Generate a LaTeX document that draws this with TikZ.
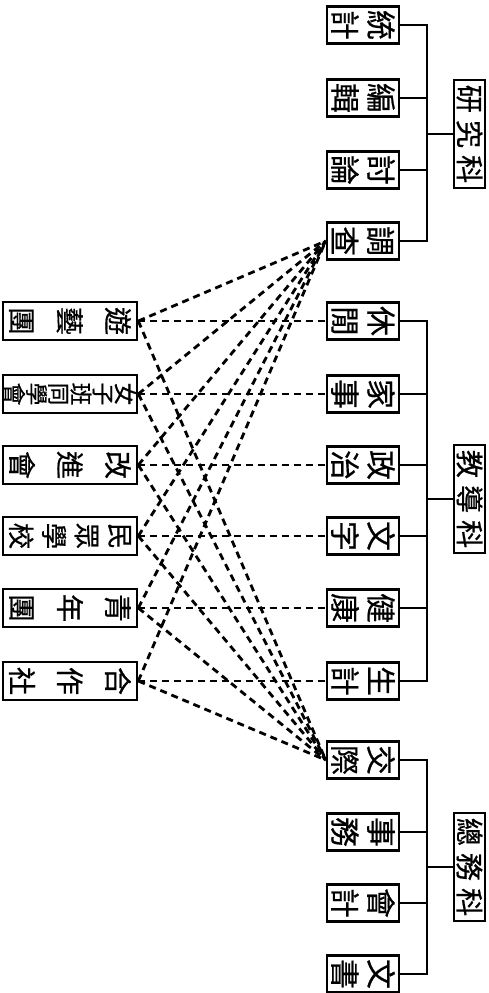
\documentclass[tikz,border=0pt]{standalone}
\usepackage{fontspec}
\newfontfamily\cjk[FakeBold=0.6]{Noto Sans CJK TC}
\begin{document}
\begin{tikzpicture}[x=0.02cm,y=-0.02cm,line width=1.5pt,
  sub/.style={draw,rotate=-90,inner sep=0pt,align=center,
    minimum width=0.74cm,minimum height=1.44cm,
    font=\cjk\fontsize{17}{20.5}\selectfont},
  club/.style={draw,rotate=-90,inner sep=0pt,align=center,
    minimum width=0.76cm,minimum height=2.68cm,
    font=\cjk\fontsize{16}{27.3}\selectfont},
  dept/.style={draw,rotate=-90,inner sep=0pt,
    minimum width=2.16cm,minimum height=0.62cm,
    font=\cjk\fontsize{16}{18}\selectfont},
  link/.style={dash pattern=on 4pt off 2.8pt,line width=1.6pt}]
\useasboundingbox (0,0) rectangle (488,993);
% right hand column
\node[sub] (tongji) at (363,25) {統\\計};
\node[sub] (bianji) at (363,98) {編\\輯};
\node[sub] (taolun) at (363,170) {討\\論};
\node[sub] (diaocha) at (363,241) {調\\查};
\node[sub] (xiuxian) at (363,321) {休\\閒};
\node[sub] (jiashi) at (363,394) {家\\事};
\node[sub] (zhengzhi) at (363,465) {政\\治};
\node[sub] (wenzi) at (363,536) {文\\字};
\node[sub] (jiankang) at (363,608) {健\\康};
\node[sub] (shengji) at (363,681) {生\\計};
\node[sub] (jiaoji) at (363,760) {交\\際};
\node[sub] (shiwu) at (363,832) {事\\務};
\node[sub] (kuaiji) at (363,903) {會\\計};
\node[sub] (wenshu) at (363,974) {文\\書};
% departments
\node[dept] (yanjiu) at (469.5,134) {研\kern4pt究\kern4pt科};
\node[dept] (jiaodao) at (469.5,499) {教\kern4pt導\kern4pt科};
\node[dept] (zongwu) at (469.5,867) {總\kern4pt務\kern4pt科};
\coordinate (spine) at (427,0);
\draw (tongji.north) -- (tongji.north -| spine) -- (diaocha.north -| spine) -- (diaocha.north);
\draw (xiuxian.north) -- (xiuxian.north -| spine) -- (shengji.north -| spine) -- (shengji.north);
\draw (jiaoji.north) -- (jiaoji.north -| spine) -- (wenshu.north -| spine) -- (wenshu.north);
\foreach \n in {bianji,taolun,jiashi,zhengzhi,wenzi,jiankang,shiwu,kuaiji}
  \draw (\n.north) -- (\n.north -| spine);
\foreach \n in {yanjiu,jiaodao,zongwu}
  \draw (\n.south) -- (\n.south -| spine);
% left hand column
\node[club] (youyi) at (70,321) {遊\\藝\\團};
\node[club,font=\cjk\fontsize{13}{12.6}\selectfont] (nvzi) at (70,394) {女\\子\\班\\同\\學\\會};
\node[club] (gaijin) at (70,465) {改\\進\\會};
\node[club,font=\cjk\fontsize{15}{18.8}\selectfont] (minzhong) at (70,536) {民\\眾\\學\\校};
\node[club] (qingnian) at (70,608) {青\\年\\團};
\node[club] (hezuo) at (70,681) {合\\作\\社};
\foreach \c/\m in {youyi/xiuxian,nvzi/jiashi,gaijin/zhengzhi,minzhong/wenzi,qingnian/jiankang,hezuo/shengji} {
  \draw[link] (\c.north) -- (\m.south);
  \draw[link] (\c.north) -- (diaocha.south);
  \draw[link] (\c.north) -- (jiaoji.south);
}
\end{tikzpicture}
\end{document}
